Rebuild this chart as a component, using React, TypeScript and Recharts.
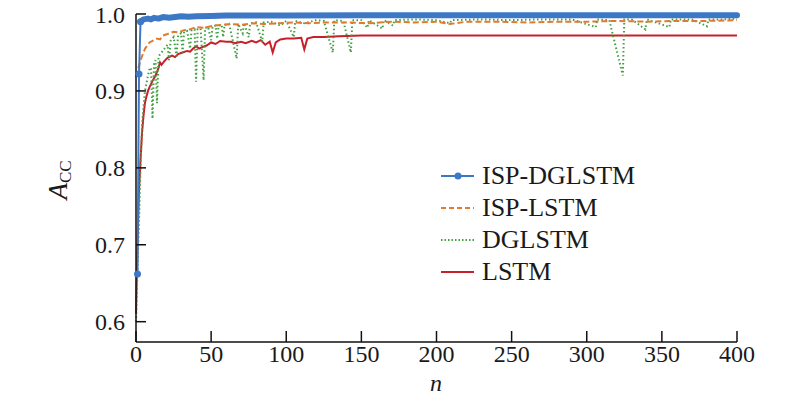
import { LineChart, Line, XAxis, YAxis } from "recharts";

// epoch n -> accuracy
const ispDglstmHead: [number, number][] = [
  [1, 0.662], [2, 0.922], [3, 0.99],
];
const ispDglstm: [number, number][] = [
  [3, 0.99], [5, 0.993], [8, 0.994], [10, 0.993], [12, 0.995], [15, 0.994], [18, 0.996],
  [22, 0.995], [26, 0.996], [30, 0.997], [35, 0.9965], [40, 0.997], [50, 0.9975], [60, 0.998],
  [80, 0.998], [100, 0.998], [150, 0.9985], [200, 0.9985], [250, 0.9985], [300, 0.9985],
  [350, 0.9985], [400, 0.9985],
];
const ispLstm: [number, number][] = [
  [0, 0.918], [3, 0.94], [6, 0.955], [9, 0.963], [12, 0.966], [14, 0.968], [16, 0.967],
  [18, 0.972], [21, 0.974], [25, 0.977], [28, 0.976], [32, 0.979], [36, 0.98], [40, 0.983],
  [45, 0.982], [52, 0.985], [58, 0.986], [63, 0.987], [70, 0.986], [78, 0.988], [85, 0.987],
  [95, 0.988], [105, 0.989], [115, 0.988], [125, 0.989], [140, 0.989], [155, 0.988],
  [170, 0.99], [185, 0.989], [200, 0.99], [209, 0.987], [220, 0.99], [240, 0.99], [260, 0.989],
  [280, 0.99], [300, 0.99], [320, 0.991], [340, 0.99], [360, 0.991], [380, 0.991], [400, 0.992],
];
const dglstm: [number, number][] = [
  [0, 0.6], [1, 0.67], [2, 0.73], [3, 0.8], [4, 0.855], [5, 0.88], [6, 0.9], [8, 0.92],
  [9, 0.929], [10, 0.93], [11, 0.864], [12, 0.935], [13, 0.94], [14, 0.884], [15, 0.945],
  [17, 0.95], [19, 0.955], [21, 0.96], [22, 0.94], [23, 0.965], [25, 0.97], [27, 0.945],
  [28, 0.972], [30, 0.975], [31, 0.95], [32, 0.977], [34, 0.978], [36, 0.955], [37, 0.979],
  [39, 0.98], [40, 0.912], [41, 0.98], [43, 0.981], [45, 0.914], [46, 0.982], [48, 0.983],
  [50, 0.966], [51, 0.984], [53, 0.985], [54, 0.968], [55, 0.985], [57, 0.986], [58, 0.97],
  [59, 0.986], [62, 0.987], [67, 0.942], [68, 0.987], [71, 0.975], [72, 0.988], [75, 0.97],
  [76, 0.988], [80, 0.989], [84, 0.964], [85, 0.989], [90, 0.99], [96, 0.985], [100, 0.991],
  [105, 0.97], [106, 0.991], [112, 0.988], [120, 0.992], [125, 0.991], [131, 0.95],
  [132, 0.992], [138, 0.991], [143, 0.95], [144, 0.992], [150, 0.992], [154, 0.982],
  [155, 0.992], [164, 0.981], [165, 0.992], [171, 0.985], [172, 0.992], [185, 0.993],
  [200, 0.992], [209, 0.988], [210, 0.992], [230, 0.993], [250, 0.992], [270, 0.993],
  [290, 0.993], [306, 0.983], [307, 0.993], [315, 0.992], [324, 0.92], [325, 0.993],
  [330, 0.993], [339, 0.98], [340, 0.993], [355, 0.983], [356, 0.993], [370, 0.993],
  [380, 0.984], [381, 0.993], [390, 0.993], [400, 0.994],
];
const lstm: [number, number][] = [
  [0, 0.61], [1, 0.7], [2, 0.77], [3, 0.81], [4, 0.845], [5, 0.868], [6, 0.885], [7, 0.893],
  [8, 0.9], [9, 0.905], [11, 0.913], [13, 0.92], [15, 0.93], [16, 0.937], [17, 0.934],
  [19, 0.939], [21, 0.943], [24, 0.946], [26, 0.944], [28, 0.948], [31, 0.95], [34, 0.952],
  [36, 0.951], [38, 0.955], [40, 0.958], [42, 0.955], [44, 0.957], [47, 0.959], [50, 0.963],
  [53, 0.961], [56, 0.965], [60, 0.964], [63, 0.964], [66, 0.962], [70, 0.964], [73, 0.962],
  [77, 0.965], [80, 0.963], [83, 0.966], [86, 0.96], [89, 0.964], [91, 0.95], [93, 0.963],
  [96, 0.967], [100, 0.968], [105, 0.968], [110, 0.969], [112, 0.954], [114, 0.968],
  [118, 0.97], [125, 0.97], [135, 0.971], [150, 0.972], [200, 0.972], [250, 0.972],
  [300, 0.972], [350, 0.972], [400, 0.972],
];

const xTicks = [0, 50, 100, 150, 200, 250, 300, 350, 400];
const yTicks = [0.6, 0.7, 0.8, 0.9, 1.0];

const BLUE = "#3d78c6";
const ORANGE = "#e07a2c";
const GREEN = "#42a040";
const RED = "#c8202a";
const FONT = "Liberation Serif, DejaVu Serif, serif";

const toRows = (pts: [number, number][]) => pts.map(([n, acc]) => ({ n, acc }));

const legendItems = [
  { name: "ISP-DGLSTM", color: BLUE, dash: undefined, dot: true },
  { name: "ISP-LSTM", color: ORANGE, dash: "5 3", dot: false },
  { name: "DGLSTM", color: GREEN, dash: "1.5 2", dot: false },
  { name: "LSTM", color: RED, dash: undefined, dot: false },
];

const tickStyle = { fontSize: 24, fontFamily: FONT, fill: "#1a1a1a" };

export default function App() {
  return (
    <div style={{ position: "absolute", left: 0, top: 0, width: 800, height: 395, background: "#fff", fontFamily: FONT }}>
      <LineChart width={800} height={395} margin={{ top: 14, right: 63, bottom: 0, left: 0 }} style={{ fontFamily: FONT }}>
        <XAxis
          type="number"
          dataKey="n"
          domain={[0, 400]}
          ticks={xTicks}
          height={53}
          tickSize={-11}
          tickMargin={14}
          tick={tickStyle}
          stroke="#111"
          strokeWidth={1.5}
          allowDuplicatedCategory={false}
          label={{
            content: () => (
              <text x={436} y={391} textAnchor="middle" fontFamily={FONT} fontSize={24} fontStyle="italic" fill="#1a1a1a">
                n
              </text>
            ),
          }}
        />
        <YAxis
          type="number"
          domain={[0.5736, 1.0]}
          ticks={yTicks}
          width={136}
          tickSize={-10}
          tickMargin={21}
          tick={tickStyle}
          tickFormatter={(v: number) => v.toFixed(1)}
          stroke="#111"
          strokeWidth={1.5}
          label={{
            content: () => (
              <text transform="translate(67,180) rotate(-90)" textAnchor="middle" fontFamily={FONT} fill="#1a1a1a">
                <tspan fontSize={27} fontStyle="italic">A</tspan>
                <tspan fontSize={17} dy={4}>CC</tspan>
              </text>
            ),
          }}
        />
        <Line
          data={toRows(lstm)}
          dataKey="acc"
          type="linear"
          stroke={RED}
          strokeWidth={2}
          dot={false}
          isAnimationActive={false}
        />
        <Line
          data={toRows(dglstm)}
          dataKey="acc"
          type="linear"
          stroke={GREEN}
          strokeWidth={2}
          strokeDasharray="1.5 2.5"
          dot={false}
          isAnimationActive={false}
        />
        <Line
          data={toRows(ispLstm)}
          dataKey="acc"
          type="linear"
          stroke={ORANGE}
          strokeWidth={2}
          strokeDasharray="6 3"
          dot={false}
          isAnimationActive={false}
        />
        <Line
          data={toRows(ispDglstmHead)}
          dataKey="acc"
          type="linear"
          stroke={BLUE}
          strokeWidth={2}
          dot={{ r: 3.5, fill: BLUE, stroke: BLUE, strokeWidth: 0 }}
          isAnimationActive={false}
        />
        <Line
          data={toRows(ispDglstm)}
          dataKey="acc"
          type="linear"
          stroke={BLUE}
          strokeWidth={6}
          strokeLinejoin="round"
          strokeLinecap="round"
          dot={false}
          isAnimationActive={false}
        />
      </LineChart>
      <div style={{ position: "absolute", left: 438, top: 160, fontFamily: FONT, fontSize: 26, color: "#1a1a1a" }}>
        {legendItems.map((it) => (
          <div key={it.name} style={{ display: "flex", alignItems: "center", height: 32 }}>
            <svg width={40} height={12} style={{ marginRight: 4 }}>
              <line x1={3} x2={36} y1={6} y2={6} stroke={it.color} strokeWidth={2} strokeDasharray={it.dash} />
              {it.dot && <circle cx={20} cy={6} r={3.5} fill={it.color} />}
            </svg>
            <span style={{ lineHeight: "32px" }}>{it.name}</span>
          </div>
        ))}
      </div>
    </div>
  );
}
